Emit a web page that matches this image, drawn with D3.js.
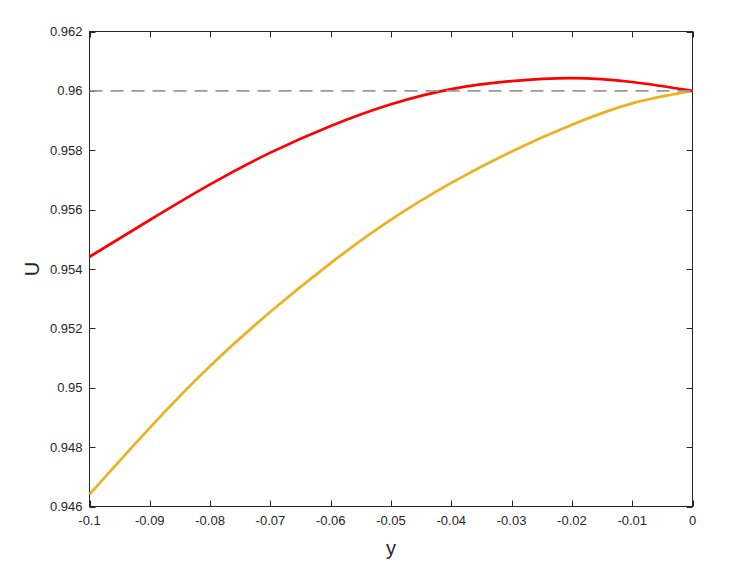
<!DOCTYPE html>
<html>
<head>
<meta charset="utf-8">
<script src="https://cdn.jsdelivr.net/npm/d3@7"></script>
<style>
  html, body { margin: 0; padding: 0; background: #fff; }
  svg { display: block; }
  text { font-family: "Liberation Sans", Arial, Helvetica, sans-serif; fill: #262626; }
</style>
</head>
<body>
<svg id="chart" width="738" height="565"></svg>
<script>
// ---- data ----
const xValues = [-0.1, -0.09, -0.08, -0.07, -0.06, -0.05, -0.04, -0.03, -0.02, -0.01, 0];
const redSeries = [0.95441, 0.95565, 0.95685, 0.95792, 0.95882, 0.95955, 0.96006, 0.96033, 0.96043, 0.96030, 0.96000];
const yellowSeries = [0.94641, 0.94865, 0.95073, 0.95256, 0.95420, 0.95566, 0.95690, 0.95796, 0.95886, 0.95958, 0.96000];
const referenceLevel = 0.96;
const xTicks = [-0.1, -0.09, -0.08, -0.07, -0.06, -0.05, -0.04, -0.03, -0.02, -0.01, 0];
const xTickLabels = ["-0.1", "-0.09", "-0.08", "-0.07", "-0.06", "-0.05", "-0.04", "-0.03", "-0.02", "-0.01", "0"];
const yTicks = [0.946, 0.948, 0.95, 0.952, 0.954, 0.956, 0.958, 0.96, 0.962];
const yTickLabels = ["0.946", "0.948", "0.95", "0.952", "0.954", "0.956", "0.958", "0.96", "0.962"];
const xLabel = "y";
const yLabel = "U";

// ---- layout ----
const svg = d3.select("#chart");
const L = 89.5, R = 692.5, T = 31.5, B = 506.5;
const axisColor = "#262626";

const x = d3.scaleLinear().domain([-0.1, 0]).range([L, R]);
const y = d3.scaleLinear().domain([0.946, 0.962]).range([B, T]);

const tickLen = 6;

// box
svg.append("rect")
  .attr("x", L).attr("y", T).attr("width", R - L).attr("height", B - T)
  .attr("fill", "none").attr("stroke", axisColor).attr("stroke-width", 1);

// x ticks bottom and top
const gx = svg.append("g");
xTicks.forEach((t, i) => {
  const px = Math.round(x(t)) + 0.5;
  gx.append("line").attr("x1", px).attr("x2", px).attr("y1", B).attr("y2", B - tickLen)
    .attr("stroke", axisColor).attr("stroke-width", 1);
  gx.append("line").attr("x1", px).attr("x2", px).attr("y1", T).attr("y2", T + tickLen)
    .attr("stroke", axisColor).attr("stroke-width", 1);
  gx.append("text").attr("x", x(t)).attr("y", B + 18.5)
    .attr("text-anchor", "middle").attr("font-size", "13px").text(xTickLabels[i]);
});

// y ticks left and right
const gy = svg.append("g");
yTicks.forEach((t, i) => {
  const py = Math.round(y(t)) + 0.5;
  gy.append("line").attr("x1", L).attr("x2", L + tickLen).attr("y1", py).attr("y2", py)
    .attr("stroke", axisColor).attr("stroke-width", 1);
  gy.append("line").attr("x1", R).attr("x2", R - tickLen).attr("y1", py).attr("y2", py)
    .attr("stroke", axisColor).attr("stroke-width", 1);
  gy.append("text").attr("x", L - 7).attr("y", y(t) + 4.5)
    .attr("text-anchor", "end").attr("font-size", "13px").text(yTickLabels[i]);
});

// axis labels
svg.append("text").attr("x", (L + R) / 2).attr("y", 555)
  .attr("text-anchor", "middle").attr("font-size", "20px").text(xLabel);
svg.append("text")
  .attr("transform", `translate(39, ${(T + B) / 2}) rotate(-90)`)
  .attr("text-anchor", "middle").attr("font-size", "20px").text(yLabel);

// curves
const line = d3.line().x(d => x(d[0])).y(d => y(d[1])).curve(d3.curveNatural);

svg.append("path")
  .datum(xValues.map((v, i) => [v, yellowSeries[i]]))
  .attr("d", line).attr("fill", "none")
  .attr("stroke", "#EDB120").attr("stroke-width", 2.7);

svg.append("path")
  .datum(xValues.map((v, i) => [v, redSeries[i]]))
  .attr("d", line).attr("fill", "none")
  .attr("stroke", "#FF0000").attr("stroke-width", 2.7);

// dashed reference line
svg.append("line")
  .attr("x1", x(-0.1)).attr("x2", x(0))
  .attr("y1", y(referenceLevel)).attr("y2", y(referenceLevel))
  .attr("stroke", "#999999").attr("stroke-width", 1.6)
  .attr("stroke-dasharray", "13,8");
</script>
</body>
</html>
